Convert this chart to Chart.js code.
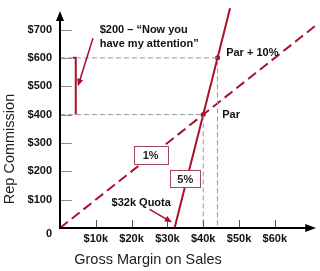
<!DOCTYPE html>
<html>
<head>
<meta charset="utf-8">
<script src="https://cdn.jsdelivr.net/npm/chart.js@4.4.1/dist/chart.umd.min.js"></script>
<style>
  html, body { margin: 0; padding: 0; background: #fff; }
  canvas { display: block; }
</style>
</head>
<body>
<canvas id="chart" width="320" height="271"></canvas>
<script>
// gross margin in $k on x, rep commission in $ on y
const xTicks = [10, 20, 30, 40, 50, 60];
const xTickLabels = ['$10k', '$20k', '$30k', '$40k', '$50k', '$60k'];
const yTicks = [0, 100, 200, 300, 400, 500, 600, 700];
const yTickLabels = ['0', '$100', '$200', '$300', '$400', '$500', '$600', '$700'];

// 1% plan (dashed) and 5% plan above the $32k quota (solid)
const onePctX = [0, 71.5];
const onePctY = [0, 715];
const fivePctX = [32, 47.5];
const fivePctY = [0, 775];

// par and par + 10%
const parX = [40, 44];
const parY = [400, 600];

// grey guide lines
const guideParX = [0, 40, 40];
const guideParY = [400, 400, 0];
const guideTopX = [0, 44, 44];
const guideTopY = [600, 600, 0];

// red bracket showing the $200 gap
const bracketX = [3.6, 4.4, 4.4];
const bracketY = [600, 600, 400];

const RED = '#a8102e';
const FONT = '"Liberation Sans", Arial, sans-serif';

function pts(xs, ys) {
    return xs.map((x, i) => ({ x: x, y: ys[i] }));
}

function arrow(ctx, x1, y1, x2, y2, color) {
    const a = Math.atan2(y2 - y1, x2 - x1);
    ctx.save();
    ctx.strokeStyle = color;
    ctx.fillStyle = color;
    ctx.lineWidth = 1.5;
    ctx.beginPath();
    ctx.moveTo(x1, y1);
    ctx.lineTo(x2 - 4 * Math.cos(a), y2 - 4 * Math.sin(a));
    ctx.stroke();
    ctx.beginPath();
    ctx.moveTo(x2, y2);
    ctx.lineTo(x2 - 8 * Math.cos(a - 0.4), y2 - 8 * Math.sin(a - 0.4));
    ctx.lineTo(x2 - 8 * Math.cos(a + 0.4), y2 - 8 * Math.sin(a + 0.4));
    ctx.closePath();
    ctx.fill();
    ctx.restore();
}

const annotations = {
    id: 'annotations',
    afterDatasetsDraw(chart) {
        const ctx = chart.ctx;
        const xs = chart.scales.x, ys = chart.scales.y;
        const px = v => xs.getPixelForValue(v);
        const py = v => ys.getPixelForValue(v);
        const x0 = px(0), y0 = py(0);

        ctx.save();
        // tick marks
        ctx.lineWidth = 1;
        ctx.strokeStyle = '#8c8c8c';
        yTicks.forEach(v => {
            if (v === 0) return;
            ctx.beginPath();
            ctx.moveTo(x0, Math.round(py(v)) + 0.5);
            ctx.lineTo(x0 + 12, Math.round(py(v)) + 0.5);
            ctx.stroke();
        });
        ctx.strokeStyle = '#555';
        xTicks.forEach(v => {
            ctx.beginPath();
            ctx.moveTo(Math.round(px(v)) + 0.5, y0);
            ctx.lineTo(Math.round(px(v)) + 0.5, y0 - 8);
            ctx.stroke();
        });

        // axes with arrow heads
        ctx.strokeStyle = '#000';
        ctx.fillStyle = '#000';
        ctx.lineWidth = 2;
        ctx.beginPath();
        ctx.moveTo(x0, y0);
        ctx.lineTo(x0, py(740));
        ctx.moveTo(x0 - 1, y0);
        ctx.lineTo(px(70.5), y0);
        ctx.stroke();
        ctx.beginPath();
        ctx.moveTo(x0, py(765));
        ctx.lineTo(x0 - 4, py(730));
        ctx.lineTo(x0 + 4, py(730));
        ctx.closePath();
        ctx.fill();
        ctx.beginPath();
        ctx.moveTo(px(71.5), y0);
        ctx.lineTo(px(68.5), y0 - 4);
        ctx.lineTo(px(68.5), y0 + 4);
        ctx.closePath();
        ctx.fill();

        // "0" at the origin
        ctx.font = 'bold 11px ' + FONT;
        ctx.textAlign = 'right';
        ctx.textBaseline = 'middle';
        ctx.fillStyle = '#111';
        ctx.fillText(yTickLabels[0], x0 - 8, y0 + 6);

        // axis titles
        ctx.font = '14.5px ' + FONT;
        ctx.textAlign = 'center';
        ctx.fillStyle = '#222';
        ctx.fillText('Gross Margin on Sales', 148, 260);
        ctx.save();
        ctx.translate(10, 149);
        ctx.rotate(-Math.PI / 2);
        ctx.fillText('Rep Commission', 0, 0);
        ctx.restore();

        // arrows
        arrow(ctx, px(9.2), py(669), px(5), py(500), RED);
        arrow(ctx, px(25), py(66), px(31.3), py(20), RED);

        // labels
        ctx.font = 'bold 11px ' + FONT;
        ctx.textAlign = 'left';
        ctx.fillStyle = '#111';
        ctx.fillText('$200 \u2013 \u201cNow you', px(11.1), py(700));
        ctx.fillText('have my attention\u201d', px(11.1), py(648));
        ctx.fillText('Par + 10%', px(46.4), py(617));
        ctx.fillText('Par', px(45.3), py(398));
        ctx.fillText('$32k Quota', px(14.4), py(90));

        // boxed rates
        [['1%', 25.3, 256, 34, 18], ['5%', 35, 173, 30, 17]].forEach(b => {
            const cx = px(b[1]), cy = py(b[2]);
            ctx.fillStyle = '#fff';
            ctx.fillRect(cx - b[3] / 2, cy - b[4] / 2, b[3], b[4]);
            ctx.strokeStyle = '#a3475f';
            ctx.lineWidth = 1;
            ctx.strokeRect(Math.round(cx - b[3] / 2) + 0.5, Math.round(cy - b[4] / 2) + 0.5, b[3], b[4]);
            ctx.fillStyle = '#222';
            ctx.textAlign = 'center';
            ctx.fillText(b[0], cx, cy + 1);
        });
        ctx.restore();
    }
};

const chart = new Chart(document.getElementById('chart').getContext('2d'), {
    type: 'line',
    data: {
        datasets: [
            {
                label: 'Par guide',
                data: pts(guideParX, guideParY),
                borderColor: '#9a9a9a',
                borderWidth: 1,
                borderDash: [5, 3],
                pointRadius: 0
            },
            {
                label: 'Par + 10% guide',
                data: pts(guideTopX, guideTopY),
                borderColor: '#9a9a9a',
                borderWidth: 1,
                borderDash: [5, 3],
                pointRadius: 0
            },
            {
                label: '1%',
                data: pts(onePctX, onePctY),
                borderColor: RED,
                borderWidth: 2,
                borderDash: [10, 5],
                pointRadius: 0
            },
            {
                label: '5%',
                data: pts(fivePctX, fivePctY),
                borderColor: RED,
                borderWidth: 2,
                pointRadius: 0
            },
            {
                label: 'Bracket',
                data: pts(bracketX, bracketY),
                borderColor: RED,
                borderWidth: 2,
                pointRadius: 0
            },
            {
                label: 'Par points',
                data: pts(parX, parY),
                showLine: false,
                pointRadius: 2.5,
                pointBackgroundColor: RED,
                pointBorderWidth: 0
            }
        ]
    },
    options: {
        responsive: false,
        animation: false,
        layout: { padding: { left: 0, right: 2.6, top: 0, bottom: 0 } },
        plugins: {
            legend: { display: false },
            tooltip: { enabled: false }
        },
        scales: {
            x: {
                type: 'linear',
                min: 0,
                max: 71.5,
                afterBuildTicks: s => { s.ticks = xTicks.map(v => ({ value: v })); },
                afterFit: s => { s.height = 43; s.paddingLeft = 0; s.paddingRight = 0; },
                grid: { display: false, drawTicks: false },
                border: { display: false },
                ticks: {
                    padding: 4,
                    color: '#111',
                    font: { family: FONT, size: 11, weight: 'bold' },
                    callback: v => xTickLabels[xTicks.indexOf(v)]
                }
            },
            y: {
                type: 'linear',
                min: 0,
                max: 790,
                afterBuildTicks: s => { s.ticks = yTicks.map(v => ({ value: v })); },
                afterFit: s => { s.width = 60; s.paddingTop = 0; s.paddingBottom = 0; },
                grid: { display: false, drawTicks: false },
                border: { display: false },
                ticks: {
                    padding: 8,
                    color: '#111',
                    font: { family: FONT, size: 11, weight: 'bold' },
                    callback: v => v === 0 ? '' : yTickLabels[yTicks.indexOf(v)]
                }
            }
        }
    },
    plugins: [annotations]
});
</script>
</body>
</html>
